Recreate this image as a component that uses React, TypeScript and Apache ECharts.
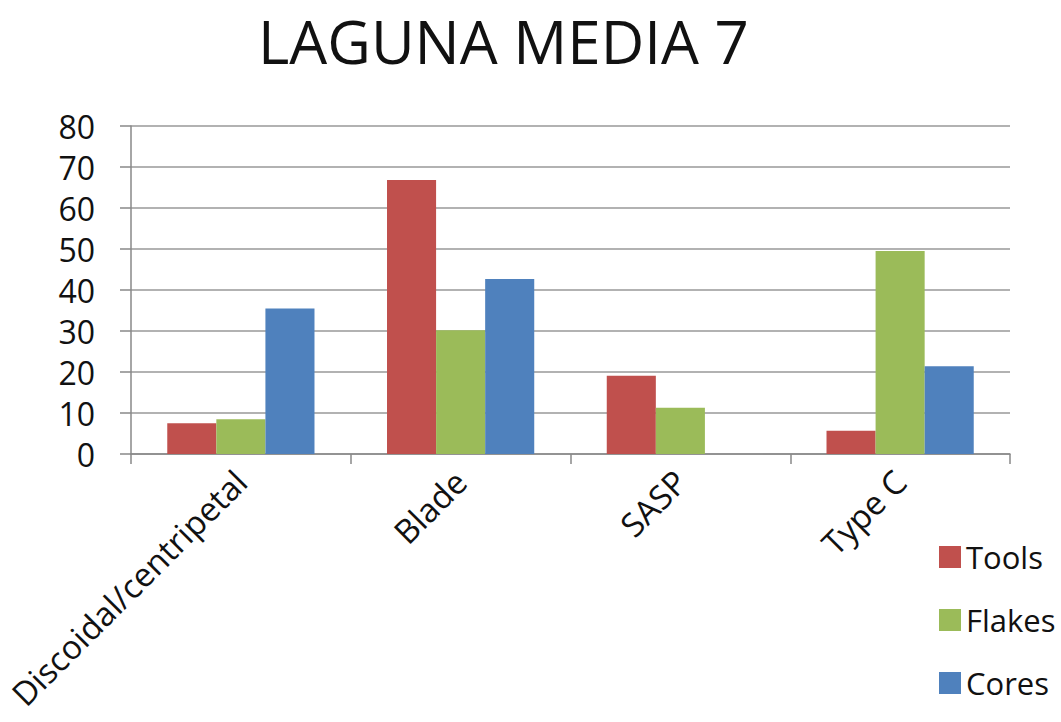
import React, { useEffect, useRef } from "react";
import * as echarts from "echarts";

const categories = ["Discoidal/centripetal", "Blade", "SASP", "Type C"];
const tools = [7.5, 66.8, 19.1, 5.7];
const flakes = [8.5, 30.2, 11.3, 49.5];
const cores = [35.5, 42.7, 0, 21.4];
const seriesNames = ["Tools", "Flakes", "Cores"];
const colors = ["#C0504D", "#9BBB59", "#4F81BD"];
const title = "LAGUNA MEDIA 7";

const FONT = "Open Sans";

export default function App() {
  const ref = useRef<HTMLDivElement>(null);
  useEffect(() => {
    document.body.style.margin = "0";
    if (!ref.current) return;
    const chart = echarts.init(ref.current, undefined, { renderer: "svg" });
    const data = [tools, flakes, cores];
    chart.setOption({
      animation: false,
      backgroundColor: "#ffffff",
      title: {
        text: title,
        left: 253,
        top: 0,
        padding: [7, 5, 5, 5],
        textStyle: { fontFamily: FONT, fontSize: 60, fontWeight: "normal", color: "#111", lineHeight: 68 },
      },
      legend: {
        orient: "vertical",
        left: 934,
        top: 535,
        itemWidth: 22,
        itemHeight: 22,
        itemGap: 29,
        icon: "rect",
        textStyle: { fontFamily: FONT, fontSize: 31, color: "#111", lineHeight: 34 },
        data: seriesNames,
      },
      grid: { left: 131, right: 51, top: 126, bottom: 268, containLabel: false },
      xAxis: {
        type: "category",
        data: categories,
        axisLine: { lineStyle: { color: "#888", width: 1.5 } },
        axisTick: { show: true, length: 10, lineStyle: { color: "#888", width: 1.5 } },
        axisLabel: {
          rotate: 45,
          interval: 0,
          margin: 22,
          fontFamily: FONT,
          fontSize: 33,
          color: "#111",
        },
      },
      yAxis: {
        type: "value",
        min: 0,
        max: 80,
        interval: 10,
        axisLine: { show: true, lineStyle: { color: "#888", width: 1.5 } },
        axisTick: { show: true, length: 11, lineStyle: { color: "#888", width: 1.5 } },
        splitLine: { lineStyle: { color: "#999", width: 1.5 } },
        axisLabel: { fontFamily: FONT, fontSize: 32, color: "#111", margin: 36 },
      },
      series: seriesNames.map((name, i) => ({
        name,
        type: "bar",
        data: data[i],
        barCategoryGap: "33%",
        barGap: "0%",
        itemStyle: { color: colors[i] },
      })),
    });
    return () => chart.dispose();
  }, []);
  return <div ref={ref} style={{ width: 1061, height: 722 }} />;
}
